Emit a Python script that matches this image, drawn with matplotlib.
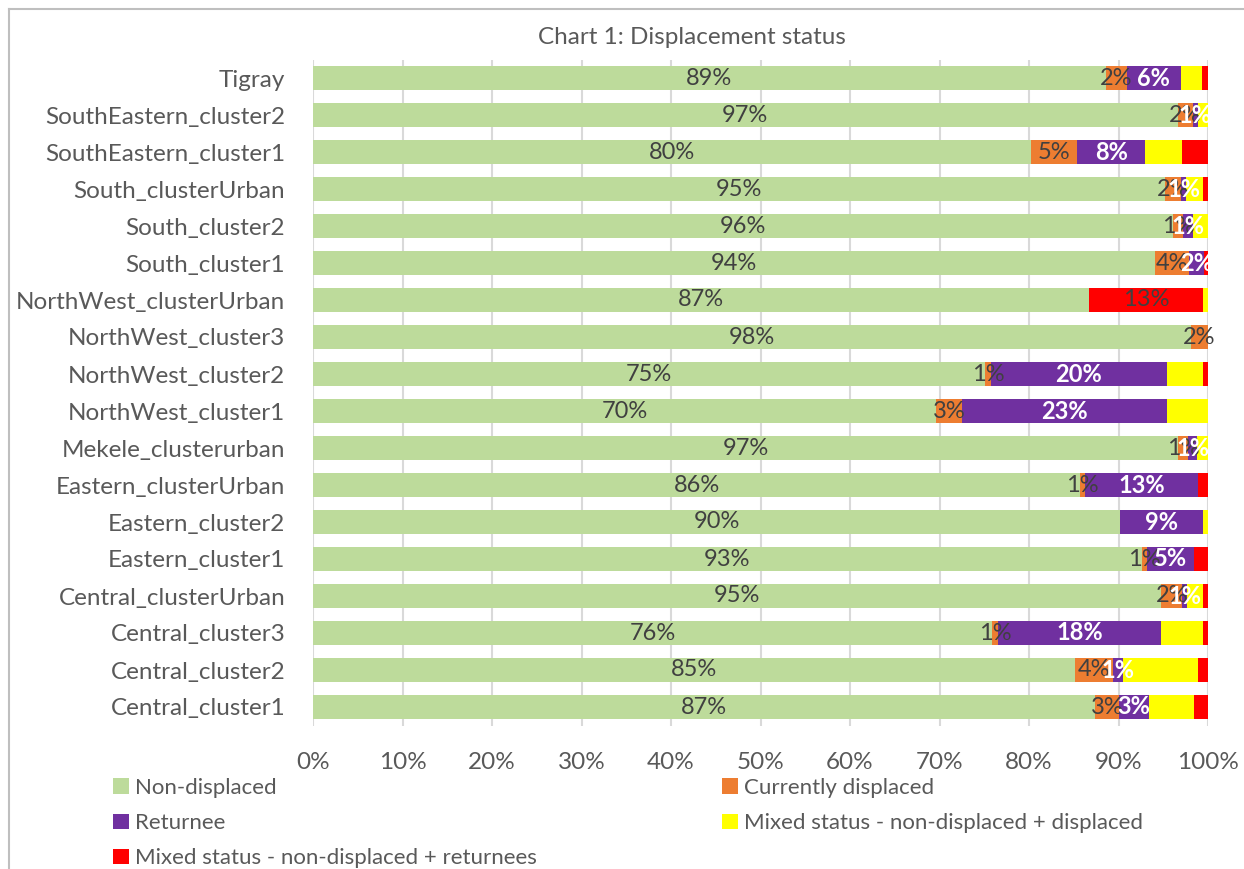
from matplotlib import pyplot as plt
from matplotlib.patches import Patch
from matplotlib.lines import Line2D
from matplotlib.ticker import FuncFormatter
import numpy as np

plt.rcParams['font.family'] = ['Lato', 'DejaVu Sans']

# categories, top to bottom as shown
categories = ['Tigray', 'SouthEastern_cluster2', 'SouthEastern_cluster1', 'South_clusterUrban',
              'South_cluster2', 'South_cluster1', 'NorthWest_clusterUrban', 'NorthWest_cluster3',
              'NorthWest_cluster2', 'NorthWest_cluster1', 'Mekele_clusterurban', 'Eastern_clusterUrban',
              'Eastern_cluster2', 'Eastern_cluster1', 'Central_clusterUrban', 'Central_cluster3',
              'Central_cluster2', 'Central_cluster1']

# percent shares
non_displaced = [88.6, 96.6, 80.2, 95.2, 96.1, 94.1, 86.7, 98.1, 75.1, 69.6, 96.7, 85.7, 90.2, 92.6, 94.8, 75.9, 85.1, 87.4]
currently_displaced = [2.35, 1.7, 5.2, 1.8, 1.1, 3.8, 12.7, 1.9, 0.6, 2.9, 1.1, 0.6, 0, 0.6, 2.3, 0.6, 4.3, 2.7]
returnee = [6.0, 0.6, 7.6, 0.55, 1.1, 1.6, 0, 0, 19.7, 22.9, 1.0, 12.6, 9.2, 5.2, 0.6, 18.3, 1.1, 3.3]
mixed_displaced = [2.4, 1.1, 4.1, 1.85, 1.7, 0, 0.6, 0, 4.0, 4.6, 1.2, 0, 0.6, 0, 1.7, 4.6, 8.4, 5.0]
mixed_returnees = [0.65, 0, 2.9, 0.6, 0, 0.5, 0, 0, 0.6, 0, 0, 1.1, 0, 1.6, 0.6, 0.6, 1.1, 1.6]

series_names = ['Non-displaced', 'Currently displaced', 'Returnee',
                'Mixed status - non-displaced + displaced', 'Mixed status - non-displaced + returnees']
series = [non_displaced, currently_displaced, returnee, mixed_displaced, mixed_returnees]
colors = ['#BDDB9B', '#ED7D31', '#7030A0', '#FFFF00', '#FF0000']

TEXT = '#595959'
LABEL = '#404040'
FS = 17.5

fig = plt.figure(figsize=(12.44, 8.69), dpi=100)
ax = fig.add_axes([313 / 1244, 143.5 / 869, 895 / 1244, 666 / 869])

y = np.arange(len(categories))
left = np.zeros(len(categories))
for i, (name, vals) in enumerate(zip(series_names, series)):
    vals = np.array(vals)
    cols = [colors[i]] * len(vals)
    if i == 1:
        # this point is coloured red in the original workbook
        cols[categories.index('NorthWest_clusterUrban')] = colors[4]
    ax.barh(y, vals, left=left, height=0.65, color=cols, label=name, zorder=2)
    if i < 3:
        for yy, l, v in zip(y, left, vals):
            if v <= 0:
                continue
            if i == 2:
                ax.text(l + v / 2, yy, '%d%%' % round(v), ha='center', va='center',
                        color='white', fontsize=17, fontweight='bold', zorder=3)
            else:
                ax.text(l + v / 2, yy, '%d%%' % round(v), ha='center', va='center',
                        color=LABEL, fontsize=17, zorder=3)
    left += vals

ax.set_xlim(0, 100)
ax.set_ylim(len(categories) - 0.5, -0.5)
ax.set_yticks(y)
ax.set_yticklabels(categories)
ax.set_xticks(np.arange(0, 101, 10))
ax.xaxis.set_major_formatter(FuncFormatter(lambda v, p: '%d%%' % v))
ax.tick_params(axis='both', length=0, labelsize=FS, colors=TEXT)
ax.tick_params(axis='x', pad=19)
ax.tick_params(axis='y', pad=20)
ax.grid(axis='x', color='#D9D9D9', lw=1.5, zorder=0)
for s in ax.spines.values():
    s.set_visible(False)

fig.text(692 / 1244, 1 - 38 / 869, 'Chart 1: Displacement status', ha='center', va='center',
         fontsize=FS, color=TEXT)

handles = [Patch(facecolor=c, edgecolor='none') for c in colors]
leg_kw = dict(loc='upper left', frameon=False, fontsize=16, labelcolor=TEXT,
              handlelength=0.7, handleheight=0.7, handletextpad=0.3,
              labelspacing=0.68, borderaxespad=0, borderpad=0)
fig.legend([handles[0], handles[2], handles[4]], [series_names[0], series_names[2], series_names[4]],
           bbox_to_anchor=(113 / 1244, 1 - 778 / 869), **leg_kw)
fig.legend([handles[1], handles[3]], [series_names[1], series_names[3]],
           bbox_to_anchor=(722 / 1244, 1 - 778 / 869), **leg_kw)

# chart area border (top and left edges visible)
fig.add_artist(Line2D([8.5 / 1244, 8.5 / 1244], [0, 1 - 8.5 / 869], color='#BFBFBF', lw=1.5))
fig.add_artist(Line2D([8.5 / 1244, 1], [1 - 8.5 / 869, 1 - 8.5 / 869], color='#BFBFBF', lw=1.5))

fig.savefig('out.png', dpi=100)
